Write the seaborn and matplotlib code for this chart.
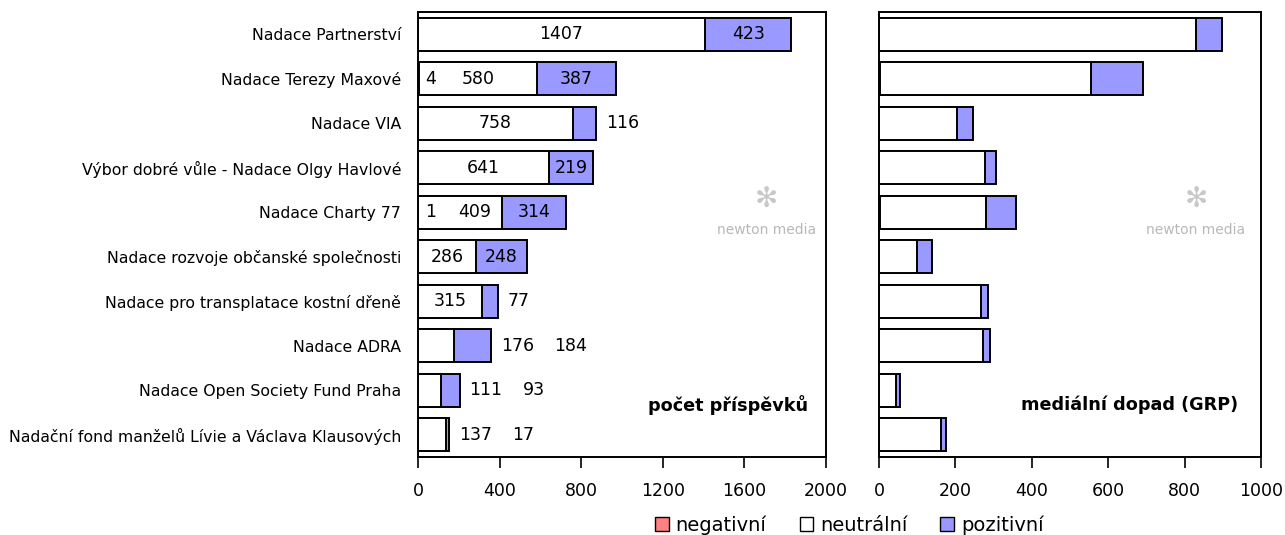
import matplotlib
matplotlib.use("Agg")
import matplotlib.pyplot as plt
import seaborn as sns
import numpy as np
import pandas as pd
from matplotlib.patches import Patch

categories = [
    "Nadace Partnerství",
    "Nadace Terezy Maxové",
    "Nadace VIA",
    "Výbor dobré vůle - Nadace Olgy Havlové",
    "Nadace Charty 77",
    "Nadace rozvoje občanské společnosti",
    "Nadace pro transplatace kostní dřeně",
    "Nadace ADRA",
    "Nadace Open Society Fund Praha",
    "Nadační fond manželů Lívie a Václava Klausových",
]
count_negative = [0, 4, 0, 0, 1, 0, 0, 0, 0, 0]
count_neutral = [1407, 580, 758, 641, 409, 286, 315, 176, 111, 137]
count_positive = [423, 387, 116, 219, 314, 248, 77, 184, 93, 17]

grp_negative = [0, 3, 0, 0, 2, 0, 0, 0, 0, 0]
grp_neutral = [829, 552, 205, 277, 279, 100, 267, 272, 45, 162]
grp_positive = [70, 136, 40, 30, 77, 38, 19, 19, 11, 14]

legend_labels = ["negativní", "neutrální", "pozitivní"]
count_ticks = [0, 400, 800, 1200, 1600, 2000]
grp_ticks = [0, 200, 400, 600, 800, 1000]

COL_NEG = "#FF8080"
COL_NEU = "#FFFFFF"
COL_POS = "#9999FF"

sns.set_theme(style="white")
plt.rcParams["font.family"] = ["DejaVu Sans"]
plt.rcParams["text.color"] = "black"
plt.rcParams["xtick.color"] = "black"
plt.rcParams["ytick.color"] = "black"
plt.rcParams["axes.labelcolor"] = "black"

fig = plt.figure(figsize=(12.85, 5.35), dpi=100)
ax1 = fig.add_axes([418 / 1285, 78 / 535, 408 / 1285, 445 / 535])
ax2 = fig.add_axes([879 / 1285, 78 / 535, 382 / 1285, 445 / 535])


def stacked(ax, neg, neu, pos):
    neg = np.array(neg)
    neu = np.array(neu)
    pos = np.array(pos)
    df = pd.DataFrame({
        "cat": categories,
        "total": neg + neu + pos,
        "negneu": neg + neu,
        "neg": neg,
    })
    for col, color in [("total", COL_POS), ("negneu", COL_NEU), ("neg", COL_NEG)]:
        sns.barplot(data=df, x=col, y="cat", order=categories, orient="h",
                    color=color, saturation=1, width=0.75, edgecolor="black",
                    linewidth=1.4, ax=ax)
    ax.set_ylim(9.5, -0.5)
    ax.set_xlabel("")
    ax.set_ylabel("")
    for s in ax.spines.values():
        s.set_visible(True)
        s.set_color("black")
        s.set_linewidth(1.4)


stacked(ax1, count_negative, count_neutral, count_positive)
stacked(ax2, grp_negative, grp_neutral, grp_positive)

ax1.set_xlim(0, 2000)
ax1.set_xticks(count_ticks)
ax2.set_xlim(0, 1000)
ax2.set_xticks(grp_ticks)
ax2.set_yticks([])

for ax in (ax1, ax2):
    ax.tick_params(axis="x", direction="out", length=8, width=1.2, pad=10,
                   labelsize=12.5, color="black", labelcolor="black", bottom=True)
ax1.tick_params(axis="y", length=0, pad=12, labelsize=11.3, labelcolor="black")

# value labels on left panel
fs = 12.5
px_per_unit = 408 / 2000
char_w = 0.636 * fs * 100 / 72 / px_per_unit  # width of one digit in data units
gap = 10 / px_per_unit
gap2 = 20 / px_per_unit
fit_pad = 6 / px_per_unit
for i in range(len(categories)):
    n, u, p = count_negative[i], count_neutral[i], count_positive[i]
    total = n + u + p
    cursor = total + gap
    neg_right = None
    if n > 0:
        xl = 35
        ax1.text(xl, i, str(n), ha="left", va="center", fontsize=fs)
        neg_right = xl + len(str(n)) * char_w
    # neutral
    w = len(str(u)) * char_w
    if u > w + fit_pad:
        cx = n + u / 2
        if neg_right is not None:
            cx = max(cx, neg_right + gap * 2.2 + w / 2)
        ax1.text(cx, i, str(u), ha="center", va="center", fontsize=fs)
    else:
        ax1.text(cursor, i, str(u), ha="left", va="center", fontsize=fs)
        cursor = cursor + w + gap2
    # positive
    w = len(str(p)) * char_w
    if p > w + fit_pad:
        ax1.text(n + u + p / 2, i, str(p), ha="center", va="center", fontsize=fs)
    else:
        ax1.text(cursor, i, str(p), ha="left", va="center", fontsize=fs)

ax1.text(0.955, 0.117, "počet příspěvků", transform=ax1.transAxes, ha="right",
         va="center", fontsize=12.7, fontweight="bold")
ax2.text(0.94, 0.117, "mediální dopad (GRP)", transform=ax2.transAxes, ha="right",
         va="center", fontsize=12.7, fontweight="bold")

for ax, xc in ((ax1, 0.855), (ax2, 0.83)):
    ax.text(xc, 0.58, "✻", transform=ax.transAxes, ha="center", va="center",
            fontsize=20, color="#c8c8c8")
    ax.text(xc, 0.51, "newton media", transform=ax.transAxes, ha="center",
            va="center", fontsize=10, color="#b8b8b8")

handles = [Patch(facecolor=c, edgecolor="black", linewidth=1.0)
           for c in (COL_NEG, COL_NEU, COL_POS)]
fig.legend(handles, legend_labels, loc="center", bbox_to_anchor=(0.661, 0.019),
           ncol=3, frameon=False, fontsize=14, handlelength=0.7, handleheight=0.7,
           handletextpad=0.35, columnspacing=1.7, borderpad=0, borderaxespad=0)

fig.savefig("out.png", dpi=100)
